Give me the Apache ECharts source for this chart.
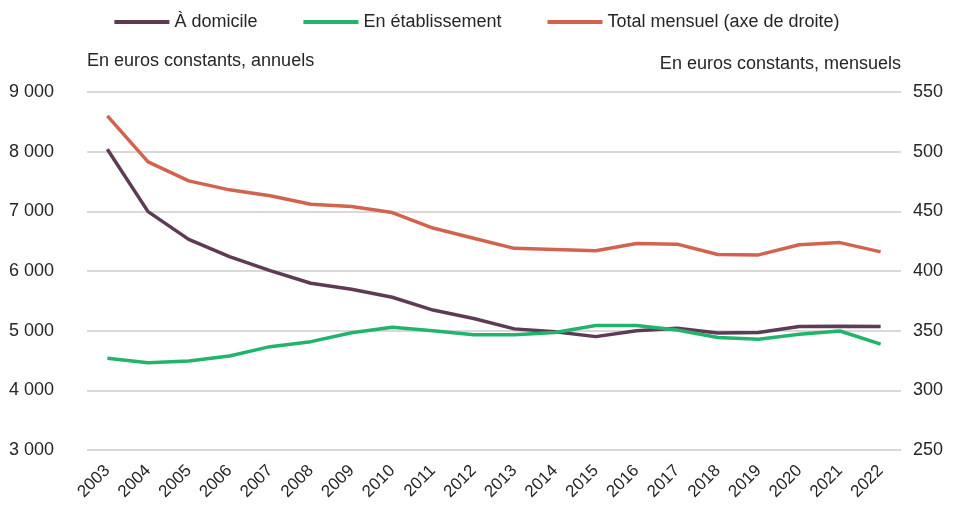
<!DOCTYPE html>
<html>
<head>
<meta charset="utf-8">
<script src="https://cdn.jsdelivr.net/npm/echarts@6/dist/echarts.min.js"></script>
<style>
  html, body { margin: 0; padding: 0; background: #fff; }
  #chart { width: 954px; height: 508px; }
</style>
</head>
<body>
<div id="chart"></div>
<script>
const years = ['2003', '2004', '2005', '2006', '2007', '2008', '2009', '2010', '2011', '2012',
  '2013', '2014', '2015', '2016', '2017', '2018', '2019', '2020', '2021', '2022']
const domicile = [8040, 6995, 6530, 6240, 6005, 5795, 5695, 5560, 5345, 5205,
  5030, 4980, 4900, 5000, 5040, 4960, 4970, 5070, 5075, 5070]
const etablissement = [4537, 4464, 4492, 4576, 4732, 4816, 4966, 5056, 5000, 4930,
  4930, 4970, 5085, 5085, 5010, 4885, 4855, 4940, 4995, 4775]
const totalMensuel = [530, 491.5, 475.5, 468, 463, 456, 454, 449, 436, 427.5,
  419, 418, 417, 423, 422.5, 413.8, 413.5, 422, 423.8, 416]

const chart = echarts.init(document.getElementById('chart'))
const txt = '#262626'
const fmt = v => String(v).replace(/\B(?=(\d{3})+(?!\d))/g, ' ')

chart.setOption({
  animation: false,
  textStyle: { fontFamily: 'Liberation Sans, Arial, sans-serif' },
  legend: {
    top: 8,
    left: 'center',
    itemWidth: 55,
    itemHeight: 4,
    itemGap: 46,
    icon: 'rect',
    textStyle: { fontSize: 18, color: txt },
    data: ['À domicile', 'En établissement', 'Total mensuel (axe de droite)']
  },
  grid: { left: 87, right: 53, top: 92, bottom: 58 },
  xAxis: {
    type: 'category',
    data: years,
    boundaryGap: true,
    axisLine: { show: false },
    axisTick: { show: false },
    axisLabel: { rotate: 45, fontSize: 17, color: txt, margin: 18 }
  },
  yAxis: [{
    type: 'value',
    min: 3000,
    max: 9000,
    interval: 1000,
    name: 'En euros constants, annuels',
    nameLocation: 'end',
    nameGap: 22,
    nameTextStyle: { align: 'left', fontSize: 18, color: txt },
    axisLine: { show: false },
    axisTick: { show: false },
    axisLabel: { fontSize: 18, color: txt, margin: 33, formatter: fmt },
    splitLine: { lineStyle: { color: '#d9d9d9', width: 2 } }
  }, {
    type: 'value',
    min: 250,
    max: 550,
    interval: 50,
    position: 'right',
    name: 'En euros constants, mensuels',
    nameLocation: 'end',
    nameGap: 19,
    nameTextStyle: { align: 'right', fontSize: 18, color: txt },
    axisLine: { show: false },
    axisTick: { show: false },
    axisLabel: { fontSize: 18, color: txt, margin: 12 },
    splitLine: { show: false }
  }],
  series: [{
    name: 'À domicile',
    type: 'line',
    data: domicile,
    yAxisIndex: 0,
    symbol: 'none',
    color: '#5e3a55',
    lineStyle: { width: 3.5, color: '#5e3a55' }
  }, {
    name: 'En établissement',
    type: 'line',
    data: etablissement,
    yAxisIndex: 0,
    symbol: 'none',
    color: '#22b46d',
    lineStyle: { width: 3.5, color: '#22b46d' }
  }, {
    name: 'Total mensuel (axe de droite)',
    type: 'line',
    data: totalMensuel,
    yAxisIndex: 1,
    symbol: 'none',
    color: '#d2644f',
    lineStyle: { width: 3.5, color: '#d2644f' }
  }]
})
</script>
</body>
</html>
